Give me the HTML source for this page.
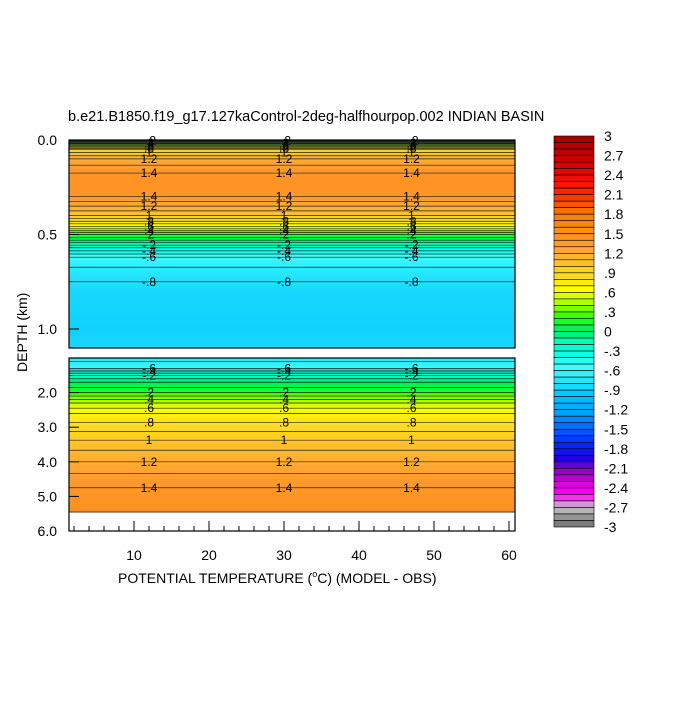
<!DOCTYPE html>
<html><head><meta charset="utf-8"><style>
body{margin:0;background:#fff}
svg text{font-family:"Liberation Sans",sans-serif;fill:#000}
</style></head><body>
<svg id="c" width="700" height="700" viewBox="0 0 700 700">
<text x="68" y="121" font-size="14.5">b.e21.B1850.f19_g17.127kaControl-2deg-halfhourpop.002 INDIAN BASIN</text>
<g id="top"></g>
<g id="bot"></g>
<g id="axes"></g>
<g id="cbar"></g>
<text x="0" y="0" font-size="14" transform="translate(27,372) rotate(-90)">DEPTH (km)</text>
<text x="118" y="583" font-size="14">POTENTIAL TEMPERATURE (<tspan font-size="9" dy="-6">o</tspan><tspan dy="6">C) (MODEL - OBS)</tspan></text>
</svg>
<script>
const NS='http://www.w3.org/2000/svg';
// data
const topDepths=[0.0,0.02,0.05,0.1,0.15,0.2,0.27,0.3,0.35,0.4,0.43,0.47,0.5,0.53,0.57,0.62,0.7,0.8,1.0,1.1];
const topValues=[-0.3,0.3,0.9,1.2,1.35,1.45,1.45,1.4,1.2,1.0,0.8,0.5,0.2,0.0,-0.3,-0.6,-0.75,-0.85,-0.9,-0.85];
const botDepths=[1.0,1.3,1.5,1.7,2.0,2.3,2.6,3.0,3.5,4.0,4.5,5.0,5.45];
const botValues=[-0.75,-0.6,-0.2,0.0,0.2,0.5,0.7,0.85,1.05,1.2,1.35,1.45,1.5];
const xTicks=[10,20,30,40,50,60];
const yTopTicks=[0.0,0.5,1.0];
const yBotTicks=[2.0,3.0,4.0,5.0,6.0];
const cbarLabels=['3','2.7','2.4','2.1','1.8','1.5','1.2','.9','.6','.3','0','-.3','-.6','-.9','-1.2','-1.5','-1.8','-2.1','-2.4','-2.7','-3'];
const labelX=[12,30,47];
// colormap stops
const cmV=[-3,-2.8,-2.7,-2.5,-2.3,-2.1,-1.95,-1.7,-1.45,-1.25,-1.0,-0.8,-0.55,-0.3,-0.15,0,0.1,0.25,0.35,0.5,0.65,0.8,0.95,1.1,1.3,1.5,1.8,2.0,2.2,2.5,3];
const cmC=['#707070','#a0a0a0','#c8c8c8','#ff00ff','#d000d0','#8000d0','#2000e0','#0030ff','#0070ff','#00a0ff','#00c0ff','#20e0ff','#40ffff','#00ffe0','#00ffb0','#00e870','#00ff40','#40ff00','#80ff00','#c8ff00','#ffff00','#ffe020','#ffd020','#ffb830','#ffa030','#ff9020','#f08000','#ff4500','#ff1a00','#e00000','#a00000'];
function hex(h){return [1,3,5].map(i=>parseInt(h.substr(i,2),16));}
function color(v){
  if(v<=cmV[0])return cmC[0];
  for(let i=1;i<cmV.length;i++){if(v<=cmV[i]){const t=(v-cmV[i-1])/(cmV[i]-cmV[i-1]);const a=hex(cmC[i-1]),b=hex(cmC[i]);return 'rgb('+a.map((x,k)=>Math.round(x+(b[k]-x)*t)).join(',')+')';}}
  return cmC[cmC.length-1];
}
const X0=69,X1=515;
const xs=v=>134+(v-10)*7.5;
const yTop=d=>140+d*189;
const yBot=d=>358+(d-1.0)*34.6;
function mk(tag,attrs,parent){const e=document.createElementNS(NS,tag);for(const k in attrs)e.setAttribute(k,attrs[k]);parent.appendChild(e);return e;}
function drawPanel(g,depths,vals,ys,yTopPx,yBotPx){
  for(let i=0;i<depths.length-1;i++){
    const n=6;
    for(let j=0;j<n;j++){
      const d0=depths[i]+(depths[i+1]-depths[i])*j/n, d1=depths[i]+(depths[i+1]-depths[i])*(j+1)/n;
      const v=vals[i]+(vals[i+1]-vals[i])*(j+0.5)/n;
      const r=mk('rect',{x:X0,y:ys(d0),width:X1-X0,height:ys(d1)-ys(d0)+0.6,fill:color(v)},g);
      
      
    }
  }
  for(let i=0;i<depths.length-1;i++){
    const a=vals[i],b=vals[i+1];
    for(let L=-30;L<=30;L++){
      const lv=L/10;
      if(a===b)continue;
      if((lv>Math.min(a,b)&&lv<=Math.max(a,b))){
        const d=depths[i]+(lv-a)/(b-a)*(depths[i+1]-depths[i]);
        const y=ys(d);
        const ln=mk('line',{x1:X0,x2:X1,y1:y,y2:y,stroke:'#222','stroke-width':0.7},g);
        
        
        if(L%2===0&&Math.abs(lv)<1.5){
          labelX.forEach(xv=>{
            const t=mk('text',{x:xs(xv),y:y+4,'font-size':12,'text-anchor':'middle'},g);
            t.textContent=(lv<0?'-':'')+(Math.abs(lv)>=1?String(Math.abs(lv)):String(Math.abs(lv)).replace(/^0/,''));
            
            
          });
        }
      }
    }
  }
  mk('rect',{x:X0,y:yTopPx,width:X1-X0,height:yBotPx-yTopPx,fill:'none',stroke:'#000','stroke-width':1.2},g);
}
drawPanel(document.getElementById('top'),topDepths,topValues,yTop,140,348);
drawPanel(document.getElementById('bot'),botDepths,botValues,yBot,358,531);
const ax=document.getElementById('axes');
xTicks.forEach(v=>{
  mk('line',{x1:xs(v),x2:xs(v),y1:531,y2:521,stroke:'#000'},ax);
  const t=mk('text',{x:xs(v),y:560,'font-size':14,'text-anchor':'middle'},ax);t.textContent=v;
  
  
});
for(let v=2;v<=60;v+=2){mk('line',{x1:xs(v),x2:xs(v),y1:531,y2:526,stroke:'#000'},ax);}
yTopTicks.forEach(v=>{
  mk('line',{x1:69,x2:79,y1:yTop(v),y2:yTop(v),stroke:'#000'},ax);
  const t=mk('text',{x:57,y:yTop(v)+5,'font-size':14,'text-anchor':'end'},ax);t.textContent=v.toFixed(1);
  
  
});
yBotTicks.forEach(v=>{
  mk('line',{x1:69,x2:79,y1:yBot(v),y2:yBot(v),stroke:'#000'},ax);
  const t=mk('text',{x:57,y:yBot(v)+5,'font-size':14,'text-anchor':'end'},ax);t.textContent=v.toFixed(1);
  
  
});
const cb=document.getElementById('cbar');
const cbTop=136,cbBot=527,nB=60,bh=(cbBot-cbTop)/nB;
for(let i=0;i<nB;i++){
  const v=3-(i+0.5)*0.1;
  const r=mk('rect',{x:554,y:cbTop+i*bh,width:40,height:bh,fill:color(v),stroke:'#000','stroke-width':0.6},cb);
  
  
}
cbarLabels.forEach((s,i)=>{
  const t=mk('text',{x:604,y:cbTop+i*3*bh+5,'font-size':14},cb);t.textContent=s;
  
  
});
</script>
</body></html>
